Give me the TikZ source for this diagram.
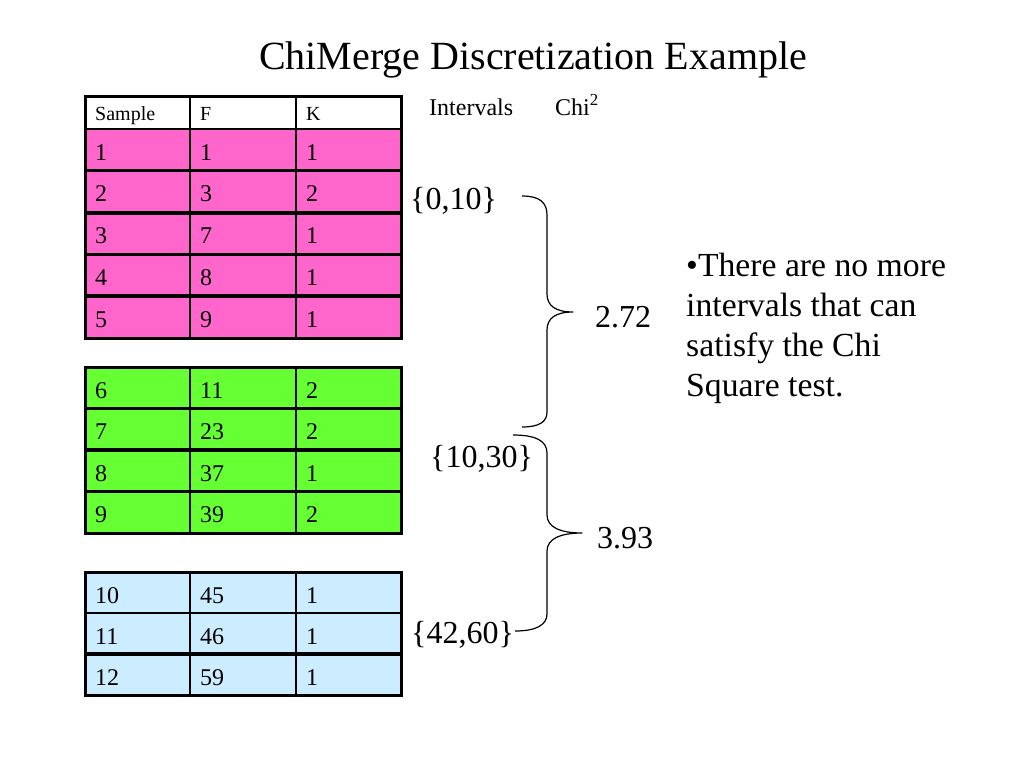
\documentclass[tikz,border=0pt]{standalone}
\usepackage{fontspec}
\setmainfont{Liberation Serif}
\definecolor{pinkc}{HTML}{FF66CC}
\definecolor{greenc}{HTML}{66FF33}
\definecolor{bluec}{HTML}{CCECFF}
\begin{document}
\begin{tikzpicture}[x=1pt,y=-1pt,
  cell/.style={anchor=base west, inner sep=0pt, font=\fontsize{24}{28}\selectfont},
  hdr/.style={anchor=base west, inner sep=0pt, font=\fontsize{20}{24}\selectfont},
  big/.style={anchor=base west, inner sep=0pt, font=\fontsize{32}{38}\selectfont},
  colhead/.style={anchor=base west, inner sep=0pt, font=\fontsize{24}{28}\selectfont},
  outer/.style={line width=3pt},
  thinh/.style={line width=2.7pt},
  thickh/.style={line width=4pt},
  vline/.style={line width=1.5pt},
  bracepath/.style={line width=1.2pt, line join=round}]
\useasboundingbox (0,0) rectangle (1024,768);
\fill[white] (0,0) rectangle (1024,768);

% Title
\node[anchor=base, inner sep=0pt, font=\fontsize{40}{48}\selectfont] (title) at (533,70) {ChiMerge Discretization Example};

% ---------- Table 1 ----------
\fill[pinkc] (85,129) rectangle (401,338);
\draw[thinh] (85,129) -- (401,129);
\draw[thinh] (85,170.8) -- (401,170.8);
\draw[thickh] (85,212.6) -- (401,212.6);
\draw[thinh] (85,254.4) -- (401,254.4);
\draw[thickh] (85,296.2) -- (401,296.2);
\draw[vline] (190,96) -- (190,338);
\draw[vline] (296,96) -- (296,338);
\draw[outer] (85,96) rectangle (401,338);
\node[hdr] (hs) at (95,120) {Sample};
\node[hdr] (hf) at (200,120) {F};
\node[hdr] (hk) at (306,120) {K};
\foreach \s/\f/\k [count=\i] in {1/1/1,2/3/2,3/7/1,4/8/1,5/9/1}{
  \node[cell] (sa\s) at (95,{129+41.8*(\i-1)+31}) {\s};
  \node[cell] (sf\s) at (200,{129+41.8*(\i-1)+31}) {\f};
  \node[cell] (sk\s) at (306,{129+41.8*(\i-1)+31}) {\k};
}

% ---------- Table 2 ----------
\fill[greenc] (85,367) rectangle (401,533);
\draw[thinh] (85,408.5) -- (401,408.5);
\draw[thickh] (85,450) -- (401,450);
\draw[thinh] (85,491.5) -- (401,491.5);
\draw[vline] (190,367) -- (190,533);
\draw[vline] (296,367) -- (296,533);
\draw[outer] (85,367) rectangle (401,533);
\foreach \s/\f/\k [count=\i] in {6/11/2,7/23/2,8/37/1,9/39/2}{
  \node[cell] (sa\s) at (95,{367+41.5*(\i-1)+31}) {\s};
  \node[cell] (sf\s) at (200,{367+41.5*(\i-1)+31}) {\f};
  \node[cell] (sk\s) at (306,{367+41.5*(\i-1)+31}) {\k};
}

% ---------- Table 3 ----------
\fill[bluec] (85,572) rectangle (401,695);
\draw[thinh] (85,613) -- (401,613);
\draw[thickh] (85,654) -- (401,654);
\draw[vline] (190,572) -- (190,695);
\draw[vline] (296,572) -- (296,695);
\draw[outer] (85,572) rectangle (401,695);
\foreach \s/\f/\k [count=\i] in {10/45/1,11/46/1,12/59/1}{
  \node[cell] (sa\s) at (95,{572+41*(\i-1)+31}) {\s};
  \node[cell] (sf\s) at (200,{572+41*(\i-1)+31}) {\f};
  \node[cell] (sk\s) at (306,{572+41*(\i-1)+31}) {\k};
}

% ---------- Column headers ----------
\node[colhead] (intv) at (429,115) {Intervals};
\node[colhead] (chi) at (555,115) {Chi\textsuperscript{2}};

% ---------- Intervals and chi values ----------
\node[big] (i1) at (410,209) {\{0,10\}};
\node[big] (i2) at (430,467) {\{10,30\}};
\node[big] (i3) at (411,643) {\{42,60\}};
\node[big] (c1) at (595,327) {2.72};
\node[big] (c2) at (597,548) {3.93};

% ---------- Braces ----------
\coordinate (b1top) at (522,196);
\coordinate (b1tip) at (573,312);
\coordinate (b1bot) at (522,427);
\draw[bracepath] (b1top) .. controls (539,196) and (547,202) .. (547,215)
  -- (547,294) .. controls (547,306) and (556,312) .. (b1tip)
  .. controls (556,312) and (547,318) .. (547,330)
  -- (547,412) .. controls (547,422) and (539,427) .. (b1bot);

\coordinate (b2top) at (513,435);
\coordinate (b2tip) at (582,533);
\coordinate (b2bot) at (515,631);
\draw[bracepath] (b2top) .. controls (536,435) and (547,441) .. (547,453)
  -- (547,515) .. controls (547,527) and (560,533) .. (b2tip)
  .. controls (560,533) and (547,539) .. (547,551)
  -- (547,614) .. controls (547,625) and (536,631) .. (b2bot);

% ---------- Note ----------
\node[anchor=base west, inner sep=0pt, font=\fontsize{33.7}{40.3}\selectfont] (note) at (686,276)
  {\parbox[t]{330pt}{\raggedright •There are no more\\intervals that can\\satisfy the Chi\\Square test.}};
\end{tikzpicture}
\end{document}
